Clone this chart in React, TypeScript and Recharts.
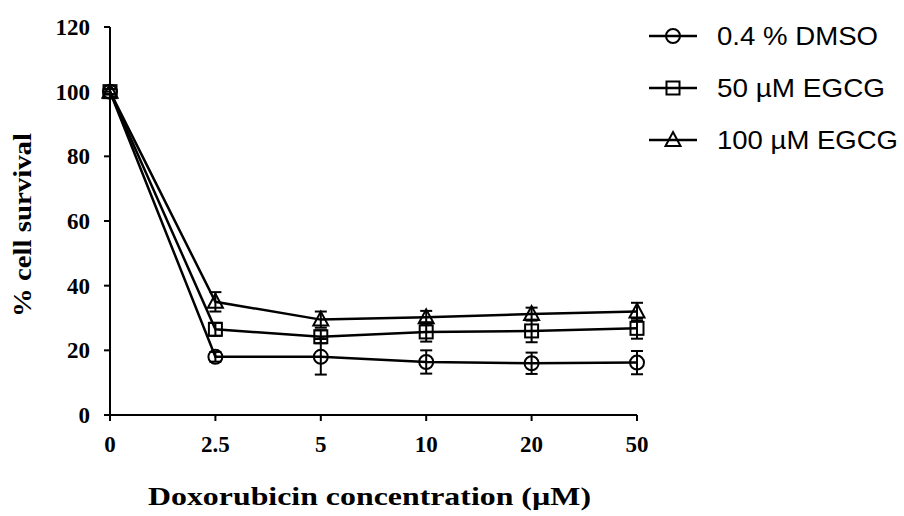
import { ErrorBar, Label, Legend, Line, LineChart, XAxis, YAxis } from "recharts";

// doxorubicin doses (µM), plotted as evenly spaced categories
const doses = ["0", "2.5", "5", "10", "20", "50"];

// % cell survival, mean and error per dose
const dmso = [100, 18, 18, 16.4, 16, 16.2];
const dmsoErr = [0.8, 1.5, 5.5, 3.6, 3.3, 3.6];
const egcg50 = [100, 26.5, 24.2, 25.7, 26, 26.8];
const egcg50Err = [0.8, 2, 2, 3, 3.5, 3.2];
const egcg100 = [100, 35, 29.5, 30.2, 31.2, 32];
const egcg100Err = [0.8, 3, 2.5, 2, 2, 2.7];

const yTicks = [0, 20, 40, 60, 80, 100, 120];

const seriesNames = ["0.4 % DMSO", "50 µM EGCG", "100 µM EGCG"];
const xTitle = "Doxorubicin concentration (µM)";
const yTitle = "% cell survival";

const data = doses.map((dose, i) => ({
  dose,
  dmso: dmso[i],
  dmsoErr: dmsoErr[i],
  egcg50: egcg50[i],
  egcg50Err: egcg50Err[i],
  egcg100: egcg100[i],
  egcg100Err: egcg100Err[i],
}));

const serif = '"Liberation Serif", "Times New Roman", serif';
const sans = '"Liberation Sans", Arial, sans-serif';
const ink = "#000";

type Shape = "circle" | "square" | "triangle";

function Marker({ cx, cy, shape }: { cx: number; cy: number; shape: Shape }) {
  const common = { fill: "none", stroke: ink, strokeWidth: 2 };
  if (shape === "circle") return <circle cx={cx} cy={cy} r={7} {...common} />;
  if (shape === "square") return <rect x={cx - 6.5} y={cy - 6.5} width={13} height={13} {...common} />;
  return <polygon points={`${cx},${cy - 8} ${cx + 7.5},${cy + 6} ${cx - 7.5},${cy + 6}`} {...common} />;
}

type DotProps = { cx?: number; cy?: number; index?: number };

const dotFor = (shape: Shape) => (p: DotProps) =>
  p.cx == null || p.cy == null ? (
    <g key={`${shape}-${p.index}`} />
  ) : (
    <Marker key={`${shape}-${p.index}`} cx={p.cx} cy={p.cy} shape={shape} />
  );

const legendShapes: Shape[] = ["circle", "square", "triangle"];
const legendLengths = [161, 168, 181];

function LegendBox() {
  return (
    <svg width={264} height={170}>
      {seriesNames.map((name, i) => {
        const y = 36 + i * 52;
        return (
          <g key={name}>
            <line x1={9} x2={57} y1={y} y2={y} stroke={ink} strokeWidth={2.5} />
            <Marker cx={33} cy={y} shape={legendShapes[i]} />
            <text
              x={77}
              y={y + 9}
              fontFamily={sans}
              fontSize={25}
              fill={ink}
              textLength={legendLengths[i]}
              lengthAdjust="spacingAndGlyphs"
            >
              {name}
            </text>
          </g>
        );
      })}
    </svg>
  );
}

type Box = { x: number; y: number; width: number; height: number };

function XTitle(props: { viewBox?: Box }) {
  const vb = props.viewBox ?? { x: 110, y: 415, width: 527, height: 40 };
  return (
    <text
      x={vb.x + vb.width / 2 - 4}
      y={505}
      textAnchor="middle"
      fontFamily={serif}
      fontWeight="bold"
      fontSize={26}
      fill={ink}
      textLength={443}
      lengthAdjust="spacingAndGlyphs"
    >
      {xTitle}
    </text>
  );
}

function YTitle() {
  return (
    <text
      x={31}
      y={225}
      transform="rotate(-90 31 225)"
      textAnchor="middle"
      fontFamily={serif}
      fontWeight="bold"
      fontSize={26}
      fill={ink}
      textLength={184}
      lengthAdjust="spacingAndGlyphs"
    >
      {yTitle}
    </text>
  );
}

type TickProps = { x?: number; y?: number; payload?: { value: string | number } };

function YTick({ x = 0, y = 0, payload }: TickProps) {
  return (
    <text x={x + 2} y={y + 8} textAnchor="end" fontFamily={serif} fontWeight="bold" fontSize={23} fill={ink}>
      {payload?.value}
    </text>
  );
}

function XTick({ x = 0, y = 0, payload }: TickProps) {
  return (
    <text x={x} y={y + 15} textAnchor="middle" fontFamily={serif} fontWeight="bold" fontSize={23} fill={ink}>
      {payload?.value}
    </text>
  );
}

const axisStroke = { stroke: ink, strokeWidth: 2 };

export default function App() {
  return (
    <div style={{ position: "absolute", left: 0, top: 0, width: 904, height: 516, background: "#fff" }}>
      <LineChart width={904} height={516} data={data} margin={{ top: 27, right: 267, left: 50, bottom: 61 }}>
        <XAxis
          dataKey="dose"
          interval={0}
          height={40}
          tickSize={6}
          tickMargin={16}
          padding={{ left: 0, right: 0 }}
          axisLine={axisStroke}
          tickLine={axisStroke}
          tick={XTick}
        >
          <Label content={XTitle} />
        </XAxis>
        <YAxis
          domain={[0, 120]}
          ticks={yTicks}
          interval={0}
          width={60}
          tickSize={6}
          tickMargin={16}
          axisLine={axisStroke}
          tickLine={axisStroke}
          tick={YTick}
        >
          <Label content={YTitle} />
        </YAxis>
        <Legend
          layout="horizontal"
          align="center"
          verticalAlign="middle"
          content={LegendBox}
          wrapperStyle={{ position: "absolute", left: 640, top: 0, width: 264, height: 170 }}
        />
        <Line
          dataKey="dmso"
          name={seriesNames[0]}
          stroke={ink}
          strokeWidth={2.5}
          dot={dotFor("circle")}
          activeDot={false}
          isAnimationActive={false}
        >
          <ErrorBar dataKey="dmsoErr" direction="y" width={6} stroke={ink} strokeWidth={2} />
        </Line>
        <Line
          dataKey="egcg50"
          name={seriesNames[1]}
          stroke={ink}
          strokeWidth={2.5}
          dot={dotFor("square")}
          activeDot={false}
          isAnimationActive={false}
        >
          <ErrorBar dataKey="egcg50Err" direction="y" width={6} stroke={ink} strokeWidth={2} />
        </Line>
        <Line
          dataKey="egcg100"
          name={seriesNames[2]}
          stroke={ink}
          strokeWidth={2.5}
          dot={dotFor("triangle")}
          activeDot={false}
          isAnimationActive={false}
        >
          <ErrorBar dataKey="egcg100Err" direction="y" width={6} stroke={ink} strokeWidth={2} />
        </Line>
      </LineChart>
    </div>
  );
}
